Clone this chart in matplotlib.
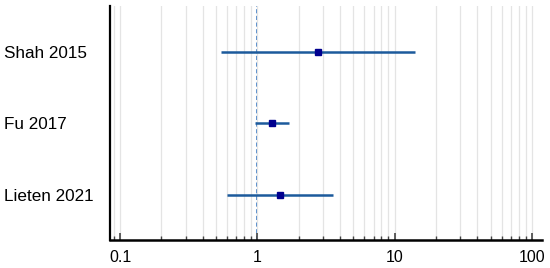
import matplotlib
matplotlib.use("Agg")
import matplotlib.pyplot as plt
from matplotlib.ticker import LogLocator, NullFormatter, FixedLocator, FixedFormatter

plt.rcParams['font.family'] = ['Liberation Sans', 'DejaVu Sans']

studies = ["Shah 2015", "Fu 2017", "Lieten 2021"]
estimate = [2.76, 1.28, 1.46]
lower = [0.545, 0.967, 0.60]
upper = [14.1, 1.69, 3.55]

x_ticks = [0.1, 1, 10, 100]
x_labels = ["0.1", "1", "10", "100"]

fig = plt.figure(figsize=(5.5, 2.68), dpi=100)
ax = fig.add_axes([0.2, 0.1045, 0.7855, 0.873])

rows = list(range(1, len(studies) + 1))

ax.set_xscale('log')
ax.set_xlim(0.0845, 118)
ax.set_ylim(3.63, 0.36)

# grid at major + minor decades
ax.grid(True, which='both', axis='x', color='#e4e4e4', linewidth=0.9, zorder=0)
ax.axvline(1, color='#2f72c0', linestyle=(0, (2.5, 1.5)), linewidth=1.2, zorder=1)

for y, est, lo, hi in zip(rows, estimate, lower, upper):
    ax.plot([lo, hi], [y, y], color='#1c5a9c', linewidth=1.8, solid_capstyle='butt', zorder=2)
    ax.plot(est, y, marker='s', markersize=4.6, color='#00008f', linestyle='none', zorder=3)

ax.xaxis.set_major_locator(FixedLocator(x_ticks))
ax.xaxis.set_major_formatter(FixedFormatter(x_labels))
ax.xaxis.set_minor_locator(LogLocator(base=10, subs=range(2, 10)))
ax.xaxis.set_minor_formatter(NullFormatter())
ax.tick_params(axis='x', which='major', direction='in', length=5, width=1.2,
               color='#444444', labelsize=11.5, pad=7)
ax.tick_params(axis='x', which='minor', direction='in', length=3, width=1.0, color='#444444')

ax.set_yticks(rows)
ax.set_yticklabels(studies, fontsize=12.3, ha='left')
ax.tick_params(axis='y', length=0, pad=76)

for s in ['top', 'right']:
    ax.spines[s].set_visible(False)
ax.spines['left'].set_linewidth(1.6)
ax.spines['bottom'].set_linewidth(1.8)

fig.savefig("out.png", dpi=100)
